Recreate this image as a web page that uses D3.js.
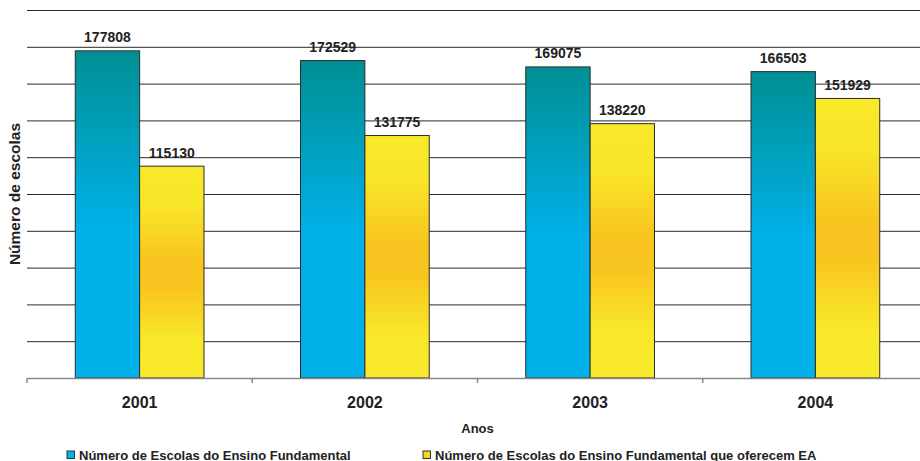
<!DOCTYPE html>
<html>
<head>
<meta charset="utf-8">
<script src="https://cdn.jsdelivr.net/npm/d3@7"></script>
<style>
  body { margin: 0; background: #fff; }
  svg { display: block; font-family: "Liberation Sans", Arial, sans-serif; }
</style>
</head>
<body>
<div id="chart"></div>
<script>
let anos = ["2001", "2002", "2003", "2004"];
let series = ["fund", "ea"];
let seriesNames = ["Número de Escolas do Ensino Fundamental", "Número de Escolas do Ensino Fundamental que oferecem EA"];
let escolasFund = [177808, 172529, 169075, 166503];
let escolasEA = [115130, 131775, 138220, 151929];
let yTicks = [0, 20000, 40000, 60000, 80000, 100000, 120000, 140000, 160000, 180000, 200000];

let chartData = anos.map(function(a, i) {
    return {ano: a, fund: escolasFund[i], ea: escolasEA[i]};
});

let svg = d3.select("#chart").append("svg")
    .attr("width", 920)
    .attr("height", 461);

// gradients, one per series, stretched over each bar
let defs = svg.append("defs");
let gBlue = defs.append("linearGradient").attr("id", "grad-fund")
    .attr("x1", 0).attr("y1", 0).attr("x2", 0).attr("y2", 1);
gBlue.append("stop").attr("offset", "0%").attr("stop-color", "#008f93");
gBlue.append("stop").attr("offset", "55%").attr("stop-color", "#00b1ea");
gBlue.append("stop").attr("offset", "100%").attr("stop-color", "#00b1ea");

let gYel = defs.append("linearGradient").attr("id", "grad-ea")
    .attr("x1", 0).attr("y1", 0).attr("x2", 0).attr("y2", 1);
gYel.append("stop").attr("offset", "0%").attr("stop-color", "#f8e929");
gYel.append("stop").attr("offset", "18%").attr("stop-color", "#f8e629");
gYel.append("stop").attr("offset", "45%").attr("stop-color", "#f9c41f");
gYel.append("stop").attr("offset", "58%").attr("stop-color", "#f9c520");
gYel.append("stop").attr("offset", "82%").attr("stop-color", "#f8e829");
gYel.append("stop").attr("offset", "100%").attr("stop-color", "#f8ea2a");

let fills = {fund: "url(#grad-fund)", ea: "url(#grad-ea)"};
let legendColors = {fund: "#00b1ea", ea: "#f8d520"};

let plotLeft = 27, plotRight = 928, plotTop = 10, plotBottom = 378;

let x0 = d3.scaleBand().domain(anos).range([plotLeft, plotRight]);
let x1 = d3.scaleBand().domain(series).range([0, x0.bandwidth()]).paddingOuter(0.75);
let y = d3.scaleLinear().domain([0, 200000]).range([plotBottom, plotTop]);

// grid lines
svg.append("g")
    .attr("transform", "translate(" + plotLeft + ",0)")
    .call(d3.axisLeft(y).tickValues(yTicks.slice(1)).tickSize(-(plotRight - plotLeft)).tickFormat(""))
    .call(g => g.select(".domain").remove())
    .call(g => g.selectAll(".tick line").attr("stroke", "#2a2a2a").attr("stroke-width", 1));

// bars
let groups = svg.append("g").selectAll("g")
    .data(chartData)
    .join("g")
    .attr("transform", d => "translate(" + x0(d.ano) + ",0)");

groups.selectAll("rect")
    .data(d => series.map(s => ({key: s, value: d[s]})))
    .join("rect")
    .attr("x", d => x1(d.key))
    .attr("y", d => y(d.value))
    .attr("width", x1.bandwidth())
    .attr("height", d => y(0) - y(d.value))
    .attr("fill", d => fills[d.key])
    .attr("stroke", "#2b2b2b")
    .attr("stroke-width", 1);

groups.selectAll("text")
    .data(d => series.map(s => ({key: s, value: d[s]})))
    .join("text")
    .attr("x", d => x1(d.key) + x1.bandwidth() / 2)
    .attr("y", d => y(d.value) - 8.5)
    .attr("text-anchor", "middle")
    .attr("font-size", 14)
    .attr("font-weight", "bold")
    .attr("fill", "#222")
    .text(d => d.value);

// x axis
svg.append("g")
    .attr("transform", "translate(0," + plotBottom + ")")
    .call(d3.axisBottom(x0).tickSize(0).tickPadding(19))
    .call(g => g.select(".domain").attr("stroke", "#888").attr("stroke-width", 1.5))
    .call(g => g.selectAll(".tick text")
        .attr("font-family", "Liberation Sans, Arial, sans-serif")
        .attr("font-size", 16).attr("font-weight", "bold").attr("fill", "#222"));

svg.append("g")
    .selectAll("line")
    .data(anos.concat(["end"]))
    .join("line")
    .attr("x1", (d, i) => plotLeft + i * x0.step())
    .attr("x2", (d, i) => plotLeft + i * x0.step())
    .attr("y1", plotBottom)
    .attr("y2", plotBottom + 5)
    .attr("stroke", "#888")
    .attr("stroke-width", 1.5);

// axis titles
svg.append("text")
    .attr("x", (plotLeft + plotRight) / 2)
    .attr("y", 433)
    .attr("text-anchor", "middle")
    .attr("font-size", 13)
    .attr("font-weight", "bold")
    .attr("fill", "#222")
    .text("Anos");

svg.append("text")
    .attr("transform", "translate(20," + ((plotTop + plotBottom) / 2) + ") rotate(-90)")
    .attr("text-anchor", "middle")
    .attr("font-size", 15.5)
    .attr("font-weight", "bold")
    .attr("fill", "#222")
    .text("Número de escolas");

// legend
let legendX = [67, 423];
let legend = svg.append("g").selectAll("g")
    .data(series)
    .join("g")
    .attr("transform", (d, i) => "translate(" + legendX[i] + ",451)");

legend.append("rect")
    .attr("width", 7.5)
    .attr("height", 7.5)
    .attr("fill", d => legendColors[d])
    .attr("stroke", "#333")
    .attr("stroke-width", 1);

legend.append("text")
    .attr("x", 12)
    .attr("y", 8.5)
    .attr("font-size", 13)
    .attr("font-weight", "bold")
    .attr("fill", "#222")
    .text((d, i) => seriesNames[i]);
</script>
</body>
</html>
